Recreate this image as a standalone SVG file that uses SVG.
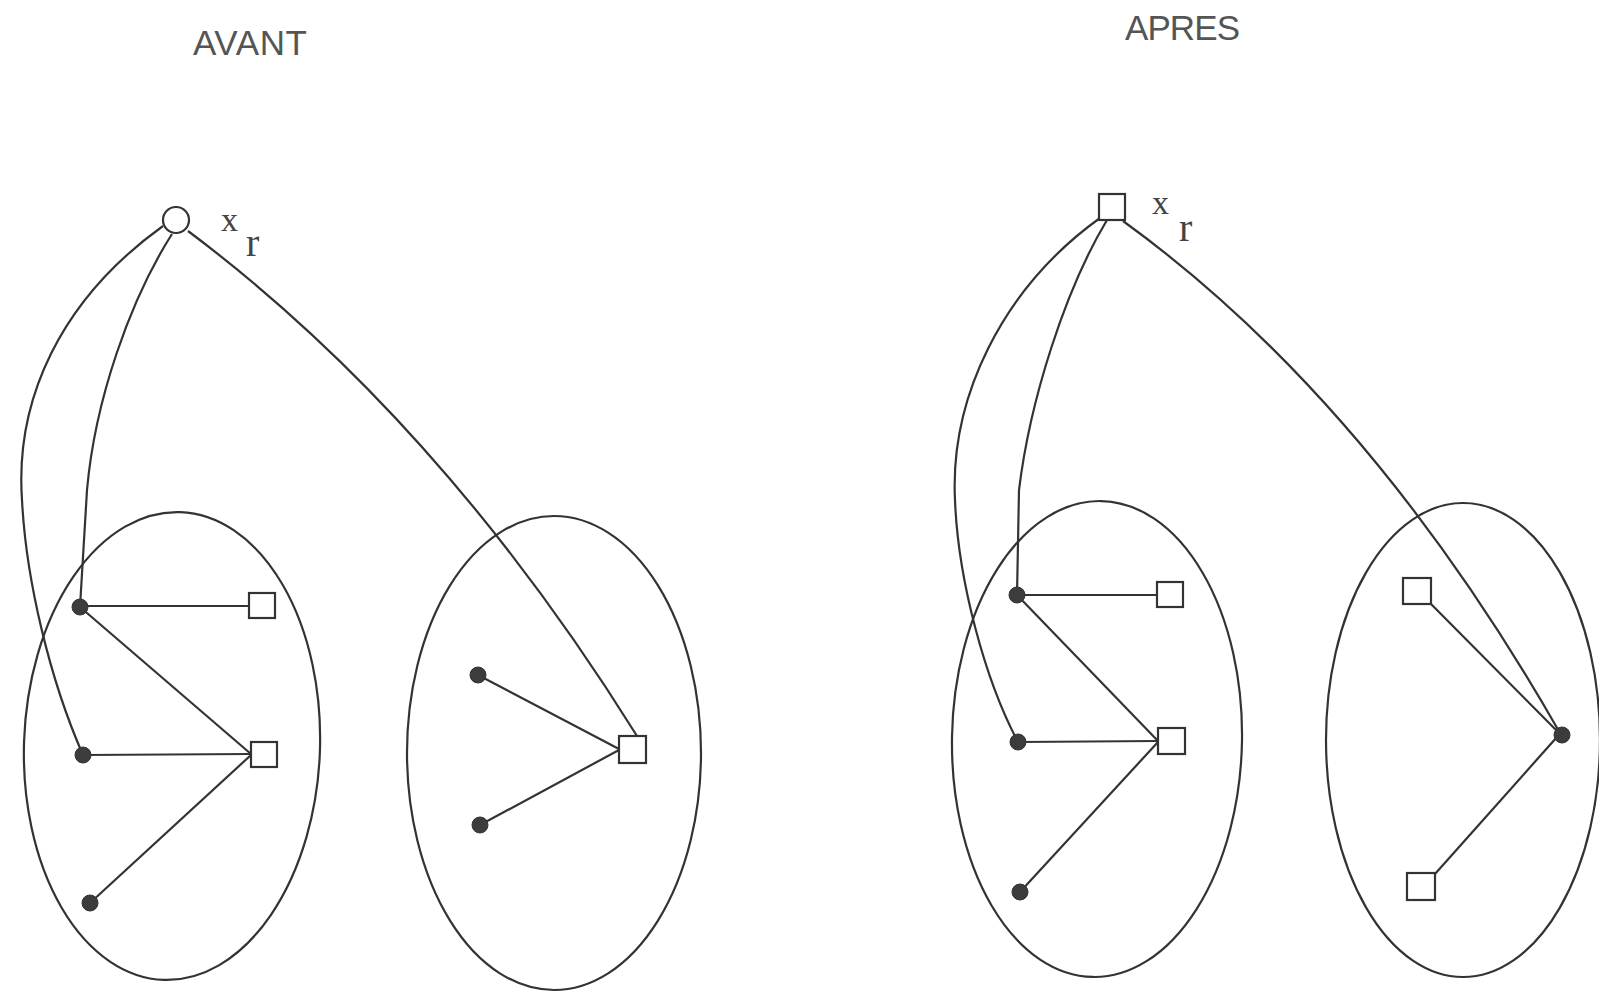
<svg xmlns="http://www.w3.org/2000/svg" width="1599" height="994" viewBox="0 0 1599 994">
<style>
.ln{fill:none;stroke:#333;stroke-width:2.2;}
.grp{fill:none;stroke:#333;stroke-width:2.2;}
.sq{fill:#fff;stroke:#333;stroke-width:2.2;}
.dot{fill:#3c3c3c;stroke:#333;stroke-width:1;}
.title{font-family:"Liberation Sans",Arial,sans-serif;font-size:35px;fill:#555;}
.lab{font-family:"Liberation Serif","Times New Roman",serif;font-size:34px;fill:#444;}
.sub{font-family:"Liberation Serif","Times New Roman",serif;font-size:40px;fill:#444;}
</style>
<rect width="1599" height="994" fill="#fff"/>
<g id="titles">
<text class="title" x="193" y="55" textLength="114">AVANT</text>
<text class="title" x="1125" y="40" textLength="115">APRES</text>
</g>
<g id="groups">
<ellipse id="avant-g1" class="grp" cx="172" cy="746" rx="148" ry="234" transform="rotate(2 172 746)"/>
<ellipse id="avant-g2" class="grp" cx="554" cy="753" rx="147" ry="237"/>
<ellipse id="apres-g1" class="grp" cx="1097" cy="739" rx="145" ry="238" transform="rotate(1 1097 739)"/>
<ellipse id="apres-g2" class="grp" cx="1463" cy="740" rx="137" ry="237"/>
</g>
<g id="connectors">
<path class="ln" d="M163,226 C60,300 15,400 22,500 C26,580 50,680 83,755"/>
<path class="ln" d="M172,234 C130,300 95,400 87,490 L80,607"/>
<path class="ln" d="M188,231 Q440,420 637,736"/>
<line class="ln" x1="80" y1="606" x2="249" y2="606"/>
<line class="ln" x1="80" y1="607" x2="251" y2="754"/>
<line class="ln" x1="83" y1="755" x2="251" y2="754"/>
<line class="ln" x1="90" y1="903" x2="251" y2="755"/>
<line class="ln" x1="478" y1="675" x2="619" y2="749"/>
<line class="ln" x1="480" y1="825" x2="619" y2="750"/>
<path class="ln" d="M1100,218 C1000,290 950,400 955,500 C958,580 985,680 1018,742"/>
<path class="ln" d="M1107,220 C1065,290 1030,400 1019,490 L1017,595"/>
<path class="ln" d="M1123,221 Q1370,400 1560,733"/>
<line class="ln" x1="1017" y1="595" x2="1157" y2="595"/>
<line class="ln" x1="1017" y1="595" x2="1158" y2="741"/>
<line class="ln" x1="1018" y1="742" x2="1158" y2="741"/>
<line class="ln" x1="1020" y1="892" x2="1158" y2="742"/>
<line class="ln" x1="1431" y1="604" x2="1560" y2="734"/>
<line class="ln" x1="1435" y1="874" x2="1557" y2="737"/>
</g>
<g id="avant-root">
<circle cx="176" cy="220" r="13" class="sq"/>
<text class="lab" x="221" y="231">x</text>
<text class="sub" x="246" y="256">r</text>
</g>
<g id="avant-n1"><circle class="dot" cx="80" cy="607" r="8"/></g>
<g id="avant-n2"><circle class="dot" cx="83" cy="755" r="8"/></g>
<g id="avant-n3"><circle class="dot" cx="90" cy="903" r="8"/></g>
<g id="avant-s1"><rect class="sq" x="249" y="593" width="26" height="25"/></g>
<g id="avant-s2"><rect class="sq" x="251" y="742" width="26" height="25"/></g>
<g id="avant-n4"><circle class="dot" cx="478" cy="675" r="8"/></g>
<g id="avant-n5"><circle class="dot" cx="480" cy="825" r="8"/></g>
<g id="avant-s3"><rect class="sq" x="619" y="736" width="27" height="27"/></g>
<g id="apres-root">
<rect class="sq" x="1099" y="194" width="26" height="26"/>
<text class="lab" x="1152" y="214">x</text>
<text class="sub" x="1179" y="241">r</text>
</g>
<g id="apres-n1"><circle class="dot" cx="1017" cy="595" r="8"/></g>
<g id="apres-n2"><circle class="dot" cx="1018" cy="742" r="8"/></g>
<g id="apres-n3"><circle class="dot" cx="1020" cy="892" r="8"/></g>
<g id="apres-s1"><rect class="sq" x="1157" y="582" width="26" height="25"/></g>
<g id="apres-s2"><rect class="sq" x="1158" y="728" width="27" height="26"/></g>
<g id="apres-s3"><rect class="sq" x="1403" y="578" width="28" height="26"/></g>
<g id="apres-s4"><rect class="sq" x="1407" y="873" width="28" height="27"/></g>
<g id="apres-n4"><circle class="dot" cx="1562" cy="735" r="8"/></g>
</svg>
